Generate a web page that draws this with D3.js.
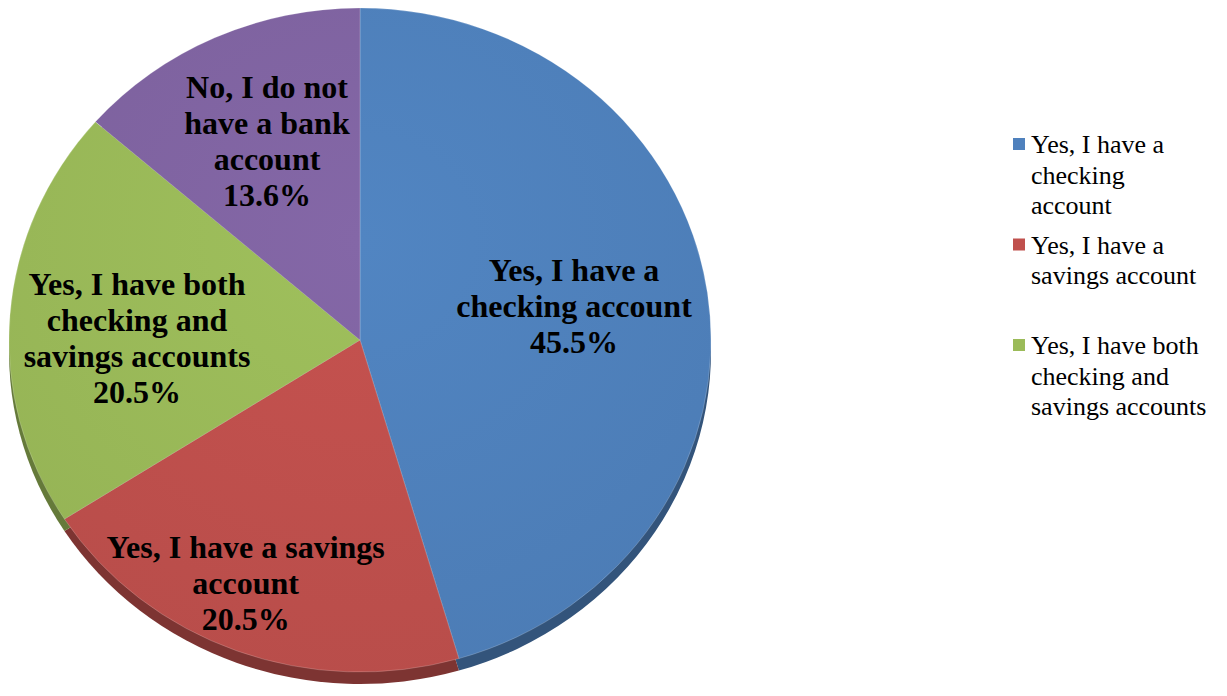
<!DOCTYPE html>
<html>
<head>
<meta charset="utf-8">
<script src="https://cdn.jsdelivr.net/npm/d3@7"></script>
<style>
  html, body { margin: 0; padding: 0; background: #fff; }
  svg { display: block; }
</style>
</head>
<body>
<svg id="chart" width="1227" height="696"></svg>
<script>
// ---- data ----
const categories = [
  "Yes, I have a checking account",
  "Yes, I have a savings account",
  "Yes, I have both checking and savings accounts",
  "No, I do not have a bank account"
];
const values = [45.5, 20.5, 20.5, 13.6];
const valueLabels = ["45.5%", "20.5%", "20.5%", "13.6%"];
// slice label lines (as wrapped in the original)
const sliceLabelLines = [
  ["Yes, I have a", "checking account", "45.5%"],
  ["Yes, I have a savings", "account", "20.5%"],
  ["Yes, I have both", "checking and", "savings accounts", "20.5%"],
  ["No, I do not", "have a bank", "account", "13.6%"]
];
// legend lines (only first three entries are visible in the original)
const legendLines = [
  ["Yes, I have a", "checking", "account"],
  ["Yes, I have a", "savings account"],
  ["Yes, I have both", "checking and", "savings accounts"]
];

// ---- styles / layout ----
const colors = ["#4F81BD", "#C0504D", "#9BBB59", "#8064A2"];
const cx = 360, cy = 340, rx = 351, ry = 332, depth = 12;
// label placement as fractions of radius along slice mid-angle [fx, fy]
const labelFrac = [[0.616, 0.72], [0.93, 0.78], [0.637, 0.1], [0.64, 0.66]];
const lineH = 36;

const svg = d3.select("#chart");
const defs = svg.append("defs");

const pie = d3.pie().sort(null).value(d => d).startAngle(0).endAngle(2 * Math.PI);
const arcs = pie(values);
const arc = d3.arc().innerRadius(0).outerRadius(rx);

// side (3D depth) layer
const sideG = svg.append("g")
  .attr("transform", `translate(${cx},${cy + depth}) scale(1,${ry / rx})`);
sideG.selectAll("path").data(arcs).join("path")
  .attr("d", arc)
  .attr("fill", (d, i) => d3.color(colors[i]).darker(1.2));

// top face gradients (subtle lighting)
colors.forEach((c, i) => {
  const g = defs.append("radialGradient").attr("id", "g" + i)
    .attr("gradientUnits", "userSpaceOnUse")
    .attr("cx", 0).attr("cy", -rx * 0.3).attr("r", rx * 1.4);
  g.append("stop").attr("offset", "0%").attr("stop-color", d3.color(c).brighter(0.08));
  g.append("stop").attr("offset", "100%").attr("stop-color", d3.color(c).darker(0.12));
});

const faceG = svg.append("g")
  .attr("transform", `translate(${cx},${cy}) scale(1,${ry / rx})`);
faceG.selectAll("path").data(arcs).join("path")
  .attr("d", arc)
  .attr("fill", (d, i) => `url(#g${i})`)
  .attr("stroke", "rgba(255,255,255,0.25)")
  .attr("stroke-width", 0.8);

// slice labels
const labels = svg.append("g")
  .attr("font-family", "'Liberation Serif', 'Times New Roman', serif")
  .attr("font-weight", "bold")
  .attr("font-size", 32)
  .attr("fill", "#000")
  .attr("text-anchor", "middle");

arcs.forEach((d, i) => {
  const mid = (d.startAngle + d.endAngle) / 2;
  const x = cx + rx * labelFrac[i][0] * Math.sin(mid);
  const y = cy - ry * labelFrac[i][1] * Math.cos(mid);
  const lines = sliceLabelLines[i];
  const t = labels.append("text")
    .attr("x", x)
    .attr("y", y - (lines.length - 1) * lineH / 2)
    .attr("dominant-baseline", "central");
  lines.forEach((ln, k) => {
    t.append("tspan").attr("x", x).attr("dy", k === 0 ? 0 : lineH).text(ln);
  });
});

// legend
const legend = svg.append("g")
  .attr("font-family", "'Liberation Serif', 'Times New Roman', serif")
  .attr("font-size", 26)
  .attr("fill", "#000");
const legendX = 1013, legendY0 = 138, legendStep = 100.5, legendLineH = 30.5;
legendLines.forEach((lines, i) => {
  const y0 = legendY0 + i * legendStep;
  legend.append("rect")
    .attr("x", legendX).attr("y", y0)
    .attr("width", 12).attr("height", 12)
    .attr("fill", colors[i]);
  const t = legend.append("text")
    .attr("x", legendX + 18).attr("y", y0 + 6)
    .attr("dominant-baseline", "central");
  lines.forEach((ln, k) => {
    t.append("tspan").attr("x", legendX + 18).attr("dy", k === 0 ? 0 : legendLineH).text(ln);
  });
});
</script>
</body>
</html>
